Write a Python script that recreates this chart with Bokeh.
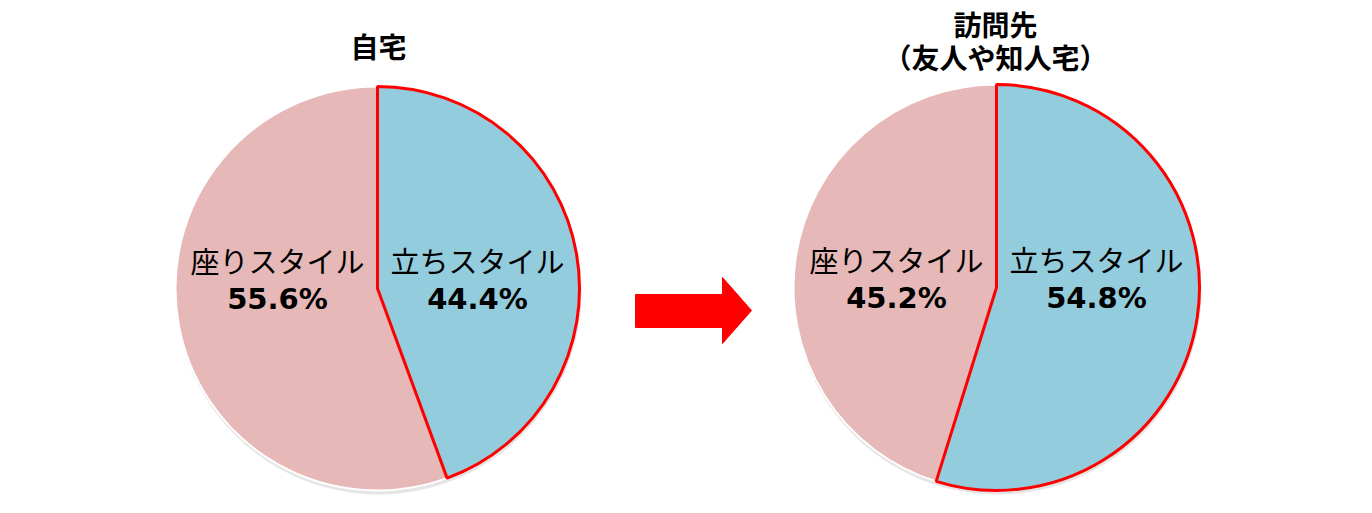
from bokeh.plotting import figure
from bokeh.core.properties import value
from bokeh.embed import file_html
from bokeh.resources import INLINE
import math

# ---- data ----
pie_titles = ["自宅", "訪問先\n（友人や知人宅）"]
categories = ["立ちスタイル", "座りスタイル"]
standing = [44.4, 54.8]
sitting = [55.6, 45.2]
colors = {"立ちスタイル": "#93CDDD", "座りスタイル": "#E6B9B8"}
outline = {"立ちスタイル": "#FF0000", "座りスタイル": "#FFFFFF"}

W, H = 1356, 497
p = figure(width=W, height=H, x_range=(0, W), y_range=(0, H),
           output_backend="svg", toolbar_location=None, min_border=0)
p.axis.visible = False
p.grid.visible = False
p.outline_line_color = None
p.background_fill_color = "white"

# layout (pixel-space, y measured upward)
centers = [(377, 209), (996, 210)]
radii = [202, 203]

JP = value("Noto Sans CJK JP")
NUM = value("DejaVu Sans")

for i, (cx, cy) in enumerate(centers):
    r = radii[i]
    vals = {"立ちスタイル": standing[i], "座りスタイル": sitting[i]}
    total = sum(vals.values())
    # shadow
    p.circle(x=[cx + 1], y=[cy - 3], radius=r + 1, fill_color="#000000",
             fill_alpha=0.10, line_color=None)
    # slices: standing clockwise from 12 o'clock, sitting the rest
    start = math.pi / 2
    wedges = []
    for cat in categories:
        frac = vals[cat] / total
        end = start - frac * 2 * math.pi
        wedges.append((cat, end, start))
        start = end
    for cat, a0, a1 in reversed(wedges):
        lw = 3 if cat == "立ちスタイル" else 2
        p.wedge(x=[cx], y=[cy], radius=r, start_angle=a0, end_angle=a1,
                fill_color=colors[cat], line_color=outline[cat], line_width=lw)
    # labels
    for cat, sign in (("座りスタイル", -1), ("立ちスタイル", 1)):
        lx = cx + sign * 100
        p.text(x=[lx], y=[cy + 29], text=[cat], text_font=JP,
               text_font_size="29px", text_align="center",
               text_baseline="middle", text_color="#000000")
        p.text(x=[lx], y=[cy - 10], text=["%.1f%%" % vals[cat]], text_font=NUM,
               text_font_size="29px", text_font_style="bold",
               text_align="center", text_baseline="middle", text_color="#000000")

# titles
p.text(x=[centers[0][0] + 1], y=[H - 45], text=[pie_titles[0]], text_font=JP,
       text_font_size="28px", text_font_style="bold", text_align="center",
       text_baseline="middle", text_color="#000000")
t2 = pie_titles[1].split("\n")
p.text(x=[centers[1][0] - 1], y=[H - 23], text=[t2[0]], text_font=JP,
       text_font_size="28px", text_font_style="bold", text_align="center",
       text_baseline="middle", text_color="#000000")
p.text(x=[centers[1][0] - 1], y=[H - 56], text=[t2[1]], text_font=JP,
       text_font_size="28px", text_font_style="bold", text_align="center",
       text_baseline="middle", text_color="#000000")

# arrow between pies
ax = [635, 722, 722, 751, 722, 722, 635]
ay = [H - 294, H - 294, H - 277, H - 310, H - 343, H - 327, H - 327]
p.patch(x=ax, y=ay, fill_color="#FF0000", line_color="#FF0000", line_width=1)

open("out.html", "w").write(file_html(p, INLINE))
